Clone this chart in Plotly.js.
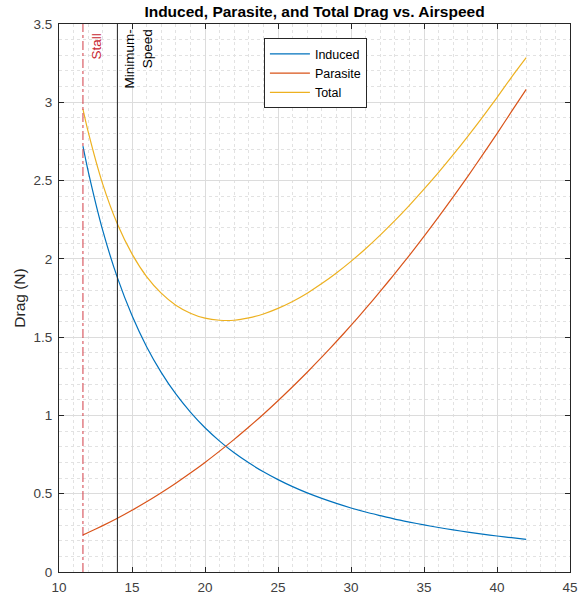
<!DOCTYPE html>
<html>
<head>
<meta charset="utf-8">
<script src="https://cdn.plot.ly/plotly-3.0.1.min.js"></script>
<style>html,body{margin:0;padding:0;background:#fff;}#chart{width:582px;height:603px;}</style>
</head>
<body>
<div id="chart"></div>
<script>
// Airspeed (m/s) samples
const airspeed = [11.64, 12, 13, 14, 15, 16, 17, 18, 19, 20, 21, 22, 23, 24, 25, 26, 27, 28, 29, 30, 31, 32, 33, 34, 35, 36, 37, 38, 39, 40, 41, 42];
const inducedDrag = [2.720, 2.559, 2.180, 1.880, 1.638, 1.439, 1.275, 1.137, 1.021, 0.921, 0.836, 0.761, 0.697, 0.640, 0.590, 0.545, 0.505, 0.470, 0.438, 0.409, 0.383, 0.360, 0.338, 0.319, 0.301, 0.284, 0.269, 0.255, 0.242, 0.230, 0.219, 0.209];
const parasiteDrag = [0.237, 0.252, 0.296, 0.343, 0.394, 0.448, 0.506, 0.567, 0.632, 0.700, 0.772, 0.847, 0.926, 1.008, 1.094, 1.183, 1.276, 1.372, 1.472, 1.575, 1.682, 1.792, 1.906, 2.023, 2.144, 2.268, 2.396, 2.527, 2.662, 2.800, 2.942, 3.082];
const totalDrag = [2.957, 2.811, 2.476, 2.223, 2.032, 1.887, 1.781, 1.704, 1.653, 1.621, 1.608, 1.608, 1.623, 1.648, 1.684, 1.728, 1.781, 1.842, 1.910, 1.984, 2.065, 2.152, 2.244, 2.342, 2.445, 2.552, 2.665, 2.782, 2.904, 3.030, 3.161, 3.285];
const seriesNames = ["Induced", "Parasite", "Total"];
const stallSpeed = 11.64;
const minimumSpeed = 14;
const yRange = [0, 3.5];
const xRange = [10, 45];

const colors = ["#0072BD", "#D95319", "#EDB120"];
const series = [inducedDrag, parasiteDrag, totalDrag];

const traces = series.map((vals, i) => ({
  x: airspeed, y: vals, type: "scatter", mode: "lines", name: seriesNames[i],
  line: {color: colors[i], width: 1.2, shape: "spline", smoothing: 0.6}
}));
traces.push({x: [stallSpeed, stallSpeed], y: yRange, type: "scatter", mode: "lines", showlegend: false, hoverinfo: "skip",
  line: {color: "rgb(210,60,70)", width: 1, dash: "dashdot"}});
traces.push({x: [minimumSpeed, minimumSpeed], y: yRange, type: "scatter", mode: "lines", showlegend: false, hoverinfo: "skip",
  line: {color: "#222", width: 1}});

const font = "Liberation Sans, Arial, Helvetica, sans-serif";
const axisCommon = {
  showline: true, mirror: "ticks", linecolor: "#262626", linewidth: 1,
  ticks: "inside", ticklen: 5, tickcolor: "#262626", zeroline: false,
  showgrid: true, gridcolor: "#dcdcdc", gridwidth: 1, ticklabelstandoff: 3,
  tickfont: {family: font, size: 13.5, color: "#404040"}
};

const layout = {
  width: 582, height: 603,
  margin: {l: 59, r: 12, t: 24, b: 31},
  paper_bgcolor: "#fff", plot_bgcolor: "#fff",
  font: {family: font},
  title: {text: "<b>Induced, Parasite, and Total Drag vs. Airspeed</b>", font: {family: font, size: 15.5, color: "#000"},
    x: 0.5, xref: "paper", y: 0.981, yanchor: "middle"},
  xaxis: Object.assign({}, axisCommon, {range: xRange, dtick: 5, tick0: 10,
    minor: {dtick: 1, showgrid: true, gridcolor: "#e2e2e2", griddash: "dot", gridwidth: 1, ticks: ""}}),
  yaxis: Object.assign({}, axisCommon, {range: yRange, dtick: 0.5, tick0: 0,
    title: {text: "Drag (N)", font: {family: font, size: 15.5, color: "#262626"}, standoff: 4},
    minor: {dtick: 0.1, showgrid: true, gridcolor: "#e2e2e2", griddash: "dot", gridwidth: 1, ticks: ""}}),
  showlegend: true,
  legend: {x: 0.401, y: 0.974, xanchor: "left", yanchor: "top", bgcolor: "#fff", bordercolor: "#262626", borderwidth: 1,
    font: {family: font, size: 12.5, color: "#000"}, tracegroupgap: 0, itemwidth: 40},
  annotations: [
    {x: stallSpeed, y: 3.5, xref: "x", yref: "y", text: "Stall", textangle: -90, showarrow: false,
      xanchor: "left", yanchor: "top", yshift: -7, xshift: 4, font: {family: font, size: 13.5, color: "rgb(200,40,50)"}},
    {x: minimumSpeed, y: 3.5, xref: "x", yref: "y", text: "Minimum-<br>Speed", textangle: -90, showarrow: false,
      xanchor: "left", yanchor: "top", yshift: -3, xshift: 3, align: "right", font: {family: font, size: 13.5, color: "#000"}}
  ]
};

Plotly.newPlot("chart", traces, layout, {displayModeBar: false, staticPlot: true});
</script>
</body>
</html>
